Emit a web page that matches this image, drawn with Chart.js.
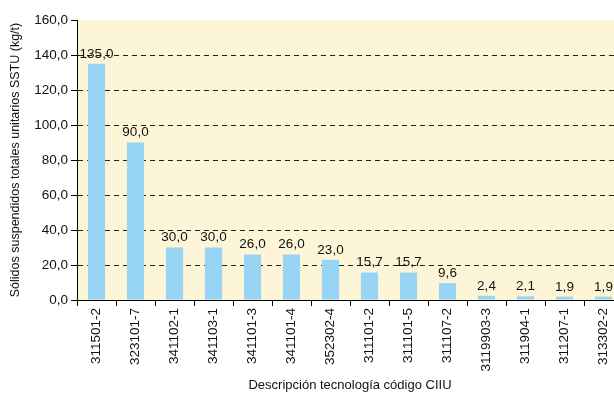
<!DOCTYPE html>
<html>
<head>
<meta charset="utf-8">
<script src="https://cdn.jsdelivr.net/npm/chart.js@4/dist/chart.umd.min.js"></script>
<style>
  html, body { margin: 0; padding: 0; background: #fff; overflow: hidden; }
  #wrap { width: 630px; height: 395px; position: relative; }
</style>
</head>
<body>
<div id="wrap"><canvas id="c"></canvas></div>
<script>
// Technology codes (CIIU) and unit total suspended solids, kg per tonne
const categories = ['311501-2', '323101-7', '341102-1', '341103-1', '341101-3', '341101-4', '352302-4',
  '311101-2', '311101-5', '311107-2', '3119903-3', '311904-1', '311207-1', '313302-2'];
const sstu = [135.0, 90.0, 30.0, 30.0, 26.0, 26.0, 23.0, 15.7, 15.7, 9.6, 2.4, 2.1, 1.9, 1.9];
const yMin = 0, yMax = 160, yStep = 20;

const FONT = '"Liberation Sans", Arial, sans-serif';
const fmt = v => v.toFixed(1).replace('.', ',');

// Cream plot background
const plotBg = {
  id: 'plotBg',
  beforeDraw(chart) {
    const { ctx, chartArea: a } = chart;
    ctx.save();
    ctx.fillStyle = '#FDF5D7';
    ctx.fillRect(a.left, a.top, a.right - a.left, a.bottom - a.top);
    ctx.restore();
  }
};

// Value labels above each bar
const valueLabels = {
  id: 'valueLabels',
  afterDatasetsDraw(chart) {
    const { ctx } = chart;
    const meta = chart.getDatasetMeta(0);
    ctx.save();
    ctx.font = '13.5px ' + FONT;
    ctx.fillStyle = '#111';
    ctx.textAlign = 'center';
    ctx.textBaseline = 'bottom';
    meta.data.forEach((bar, i) => {
      ctx.fillText(fmt(sstu[i]), bar.x, bar.y - 3);
    });
    ctx.restore();
  }
};

new Chart(document.getElementById('c'), {
  type: 'bar',
  data: {
    labels: categories,
    datasets: [{
      data: sstu,
      backgroundColor: '#98D4F3',
      borderWidth: 0,
      barPercentage: 0.44,
      categoryPercentage: 1.0
    }]
  },
  options: {
    responsive: true,
    maintainAspectRatio: false,
    animation: false,
    layout: { padding: { top: 20, right: 7, left: 0, bottom: 0 } },
    plugins: { legend: { display: false }, tooltip: { enabled: false } },
    scales: {
      x: {
        offset: true,
        grid: {
          offset: true,
          drawOnChartArea: false,
          drawTicks: true,
          tickLength: 6,
          tickColor: '#000',
          tickWidth: 1
        },
        border: { display: true, color: '#000', width: 1 },
        ticks: {
          color: '#111',
          font: { family: FONT, size: 13.5 },
          maxRotation: 90,
          minRotation: 90,
          padding: 2,
          autoSkip: false
        },
        title: {
          display: true,
          text: 'Descripción tecnología código CIIU',
          color: '#111',
          font: { family: FONT, size: 13 },
          padding: { top: 4, bottom: 2 }
        },
        afterFit(scale) { scale.height = 95; }
      },
      y: {
        min: yMin,
        max: yMax,
        grid: {
          color: ctx => (ctx.tick && (ctx.tick.value === yMin || ctx.tick.value === yMax)) ? 'rgba(0,0,0,0)' : '#222',
          lineWidth: 1,
          drawTicks: true,
          tickLength: 6,
          tickColor: '#000'
        },
        border: { display: true, color: '#000', width: 1, dash: [5, 4] },
        ticks: {
          stepSize: yStep,
          color: '#111',
          font: { family: FONT, size: 13.5 },
          padding: 3,
          callback: v => fmt(v)
        },
        title: {
          display: true,
          text: 'Sólidos suspendidos totales unitarios SSTU (kg/t)',
          color: '#111',
          font: { family: FONT, size: 12.5 },
          padding: { top: 8, bottom: 4 }
        },
        afterFit(scale) { scale.width = 77; }
      }
    }
  },
  plugins: [plotBg, valueLabels]
});
</script>
</body>
</html>
